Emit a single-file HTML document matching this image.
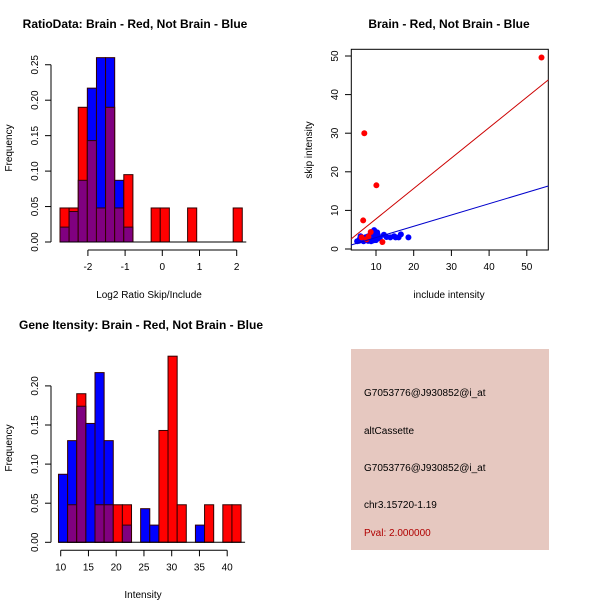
<!DOCTYPE html>
<html><head><meta charset="utf-8"><style>
body{margin:0;background:#fff}
svg text{font-family:"Liberation Sans",sans-serif;font-size:10px;fill:#000}
.t{font-weight:bold;font-size:12px}
</style></head><body>
<svg id="s" width="600" height="600" xmlns="http://www.w3.org/2000/svg">
<rect width="600" height="600" fill="#fff"/>
<text class="t" x="135" y="28" text-anchor="middle">RatioData: Brain - Red, Not Brain - Blue</text>
<text class="t" x="449" y="28" text-anchor="middle">Brain - Red, Not Brain - Blue</text>
<text class="t" x="141" y="329" text-anchor="middle">Gene Itensity: Brain - Red, Not Brain - Blue</text>
<text x="149" y="298" text-anchor="middle">Log2 Ratio Skip/Include</text>
<text x="449" y="298" text-anchor="middle">include intensity</text>
<text x="143" y="598" text-anchor="middle">Intensity</text>
<text transform="translate(12,148) rotate(-90)" text-anchor="middle">Frequency</text>
<text transform="translate(312,150) rotate(-90)" text-anchor="middle">skip intensity</text>
<text transform="translate(12,448) rotate(-90)" text-anchor="middle">Frequency</text>
<rect x="351" y="349" width="198" height="201" fill="#e6c8c0"/>
<text x="364" y="396">G7053776@J930852@i_at</text>
<text x="364" y="434">altCassette</text>
<text x="364" y="471">G7053776@J930852@i_at</text>
<text x="364" y="508">chr3.15720-1.19</text>
<text x="364" y="536" style="fill:#b00000">Pval: 2.000000</text>
</svg>
<script>
const ratioStart=-2.75, ratioBin=0.245;
const ratioRed=[0.048,0.048,0.19,0.143,0.048,0.19,0.048,0.095,0,0,0.048,0.048,0,0,0.048,0,0,0,0,0.048];
const ratioBlue=[0.021,0.043,0.087,0.217,0.26,0.26,0.087,0.021,0,0,0,0,0,0,0,0,0,0,0,0];
const ratioXTicks=[-2,-1,0,1,2];
const ratioYTicks=[0,0.05,0.10,0.15,0.20,0.25];
const intStart=9.6, intBin=1.645;
const intRed=[0,0.048,0.19,0,0.048,0.048,0.048,0.048,0,0,0,0.143,0.238,0.048,0,0,0.048,0,0.048,0.048];
const intBlue=[0.087,0.13,0.174,0.152,0.217,0.13,0,0.022,0,0.043,0.022,0,0,0,0,0.022,0,0,0,0];
const intXTicks=[10,15,20,25,30,35,40];
const intYTicks=[0,0.05,0.10,0.15,0.20];
const redX=[53.9,6.9,10.1,6.6,11.7,8.6,6.2,7.5,8.0];
const redY=[49.6,30,16.5,7.4,1.8,4.4,3.0,2.5,3.2];
const blueX=[18.6,16.6,16.0,15.2,14.8,13.8,12.1,10.3,9.5,9.0,8.5,8.0,7.5,7.0,6.5,6.0,5.5,5.0,9.8,9.2,8.7,8.2,7.7,7.2,6.7,6.2,5.7,10.5,11.0,12.8,9.6,8.9,7.9,6.9,5.9,10.0,8.4];
const blueY=[3.0,3.8,3.0,3.0,3.3,3.0,3.7,4.3,4.9,4.0,3.5,3.0,2.6,2.4,2.2,2.8,2.1,2.0,2.8,2.2,2.0,2.5,3.2,3.0,2.0,2.4,2.6,3.6,2.8,3.1,3.9,4.4,2.1,2.9,3.3,2.3,3.6];
const redLine=[-0.08,0.788], blueLine=[0.05,0.292];
const scXTicks=[10,20,30,40,50], scYTicks=[0,10,20,30,40,50];
const S=document.getElementById('s'),NS='http://www.w3.org/2000/svg';
function mk(t,a){const e=document.createElementNS(NS,t);for(const k in a)e.setAttribute(k,a[k]);S.appendChild(e);return e;}
function hist(red,blue,start,bin,xs,ys,xticks,yticks,pre){
  red.forEach((r,i)=>{const b=blue[i];const x0=xs(start+i*bin),x1=xs(start+(i+1)*bin);
    const mx=Math.max(r,b),mn=Math.min(r,b);
    if(mx>0){const e=mk('rect',{x:x0,y:ys(mx),width:x1-x0,height:ys(0)-ys(mx),fill:r>=b?'#ff0000':'#0000ff',stroke:'#300',"stroke-width":1});
      
      }
    if(mn>0){const e=mk('rect',{x:x0,y:ys(mn),width:x1-x0,height:ys(0)-ys(mn),fill:'#800080',stroke:'#300',"stroke-width":1});
      
      }
  });
  const y0=ys(0)+8;
  mk('line',{x1:xs(xticks[0]),x2:xs(xticks[xticks.length-1]),y1:y0,y2:y0,stroke:'#000'});
  xticks.forEach(v=>{mk('line',{x1:xs(v),x2:xs(v),y1:y0,y2:y0+6,stroke:'#000'});
    const t=mk('text',{x:xs(v),y:y0+20,"text-anchor":"middle"});t.textContent=v;
    
    });
  const ax=51;
  mk('line',{x1:ax,x2:ax,y1:ys(yticks[0]),y2:ys(yticks[yticks.length-1]),stroke:'#000'});
  yticks.forEach(v=>{mk('line',{x1:ax-6,x2:ax,y1:ys(v),y2:ys(v),stroke:'#000'});
    const t=mk('text',{transform:`translate(${ax-13},${ys(v)}) rotate(-90)`,"text-anchor":"middle"});t.textContent=v.toFixed(2);
    
    });
  mk('line',{x1:xs(start),x2:xs(start+red.length*bin)+4,y1:ys(0),y2:ys(0),stroke:'#000'});
}
hist(ratioRed,ratioBlue,ratioStart,ratioBin,v=>162.3+v*37.2,v=>242-v*709,ratioXTicks,ratioYTicks,'ratio');
hist(intRed,intBlue,intStart,intBin,v=>60.7+(v-10)*5.55,v=>542.3-v*782,intXTicks,intYTicks,'intensity');
// scatter
const sx=v=>338.3+v*3.77, sy=v=>249-v*3.86;
mk('rect',{x:351.3,y:49.3,width:197,height:200.7,fill:'none',stroke:'#000'});
scXTicks.forEach(v=>{mk('line',{x1:sx(v),x2:sx(v),y1:250,y2:256,stroke:'#000'});
  const t=mk('text',{x:sx(v),y:270,"text-anchor":"middle"});t.textContent=v;
  
  });
scYTicks.forEach(v=>{mk('line',{x1:345,x2:351.3,y1:sy(v),y2:sy(v),stroke:'#000'});
  const t=mk('text',{transform:`translate(338,${sy(v)}) rotate(-90)`,"text-anchor":"middle"});t.textContent=v;
  
  });
blueX.forEach((x,i)=>{const c=mk('circle',{cx:sx(x),cy:sy(blueY[i]),r:3,fill:'#0000ff'});
  
  });
redX.forEach((x,i)=>{const c=mk('circle',{cx:sx(x),cy:sy(redY[i]),r:3,fill:'#ff0000'});
  
  });
const xa=3.4,xb=55.7;
const rl=mk('line',{x1:sx(xa),y1:sy(redLine[0]+redLine[1]*xa),x2:sx(xb),y2:sy(redLine[0]+redLine[1]*xb),stroke:'#cc0000'});


const bl=mk('line',{x1:sx(xa),y1:sy(blueLine[0]+blueLine[1]*xa),x2:sx(xb),y2:sy(blueLine[0]+blueLine[1]*xb),stroke:'#0000cc'});


</script>
</body></html>
